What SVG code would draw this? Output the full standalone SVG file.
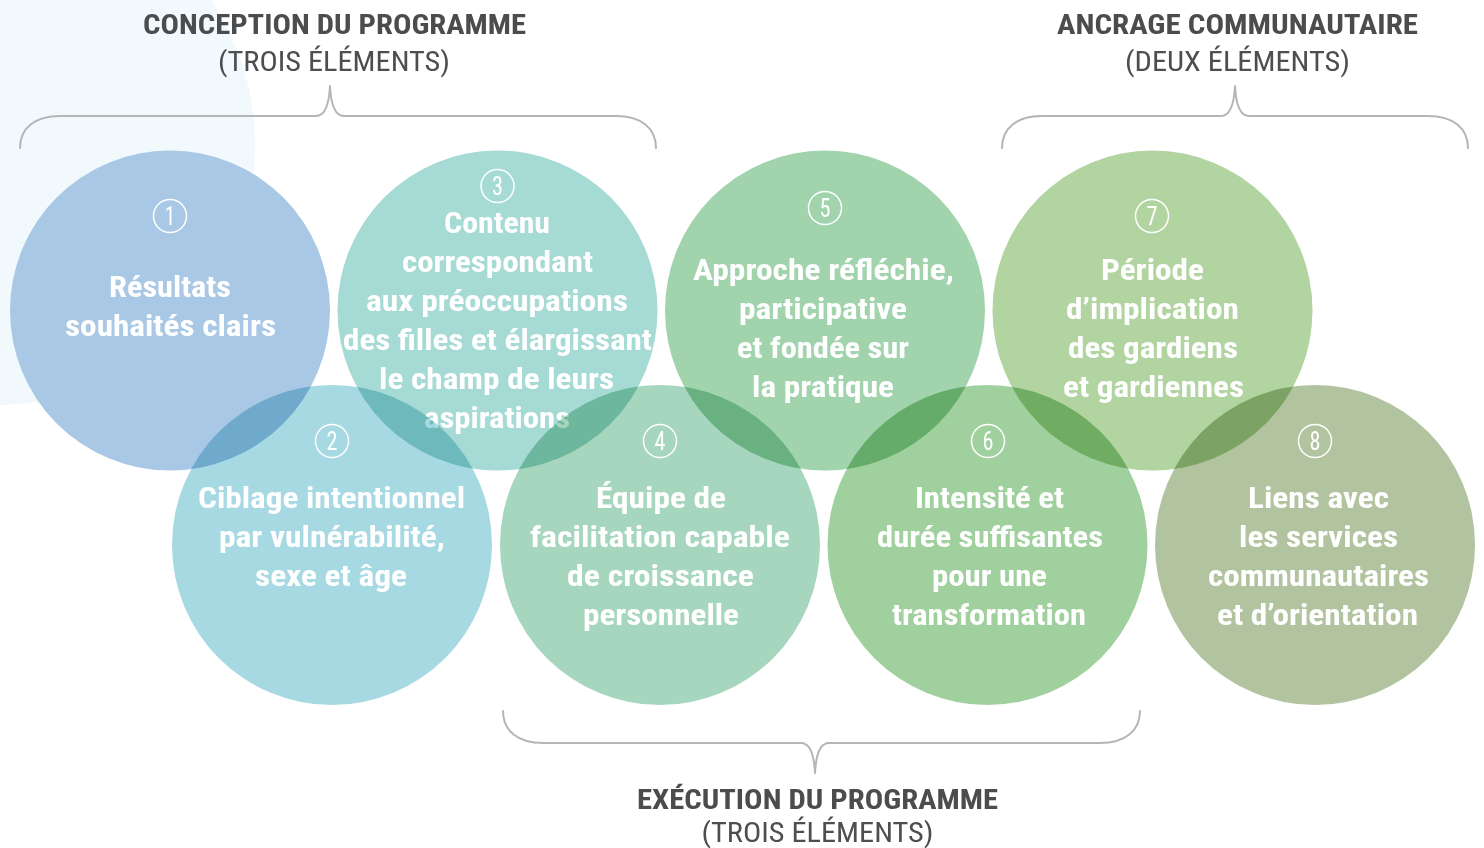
<svg xmlns="http://www.w3.org/2000/svg" width="1484" height="848" viewBox="0 0 1484 848">
<style>
.bg{fill:#ffffff}
.pale{fill:#f1f9fd}
.c{stroke:none}
.blend{mix-blend-mode:multiply}
.t{font-family:"Liberation Sans Narrow","Roboto Condensed","DejaVu Sans Condensed","Liberation Sans",sans-serif;font-weight:bold;font-size:30px;fill:#ffffff;text-anchor:middle}
.n{font-family:"Liberation Sans Narrow","Roboto Condensed","DejaVu Sans Condensed","Liberation Sans",sans-serif;font-weight:normal;font-size:25px;fill:#ffffff;text-anchor:middle}
.nc{fill:none;stroke:#ffffff;stroke-width:1.5}
.h{font-family:"Liberation Sans Narrow","Roboto Condensed","DejaVu Sans Condensed","Liberation Sans",sans-serif;font-weight:bold;font-size:28px;fill:#4a4c4e;text-anchor:middle}
.s{font-family:"Liberation Sans Narrow","Roboto Condensed","DejaVu Sans Condensed","Liberation Sans",sans-serif;font-weight:normal;font-size:27px;fill:#4d4e50;text-anchor:middle}
.br{fill:none;stroke:#b4b5b7;stroke-width:2;stroke-linecap:round;stroke-linejoin:round}
</style>
<rect class="bg" x="0" y="0" width="1484" height="848"/>
<circle class="pale" cx="-5" cy="145" r="260"/>

<g id="labels">
<text class="h" x="334.5" y="34" textLength="383" lengthAdjust="spacingAndGlyphs">CONCEPTION DU PROGRAMME</text>
<text class="s" x="334" y="71" textLength="232" lengthAdjust="spacingAndGlyphs">(TROIS ÉLÉMENTS)</text>
<text class="h" x="1237.5" y="34" textLength="361" lengthAdjust="spacingAndGlyphs">ANCRAGE COMMUNAUTAIRE</text>
<text class="s" x="1237.5" y="71" textLength="225" lengthAdjust="spacingAndGlyphs">(DEUX ÉLÉMENTS)</text>
<text class="h" x="817.5" y="809" textLength="361" lengthAdjust="spacingAndGlyphs">EXÉCUTION DU PROGRAMME</text>
<text class="s" x="817.5" y="842" textLength="232" lengthAdjust="spacingAndGlyphs">(TROIS ÉLÉMENTS)</text>
</g>

<g id="connectors">
<path class="br" d="M20,148 C20,128 35,116 60,116 L316,116 C324,116 329,106 330,86 C331,106 336,116 344,116 L616,116 C641,116 656,128 656,148"/>
<path class="br" d="M1002,148 C1002,128 1017,116 1042,116 L1221,116 C1229,116 1234,106 1235,86 C1236,106 1241,116 1249,116 L1428,116 C1453,116 1468,128 1468,148"/>
<path class="br" d="M503,711 C503,731 518,743 543,743 L801,743 C809,743 814,753 815,773 C816,753 821,743 829,743 L1100,743 C1125,743 1140,731 1140,711"/>
</g>

<g id="node1">
<circle class="c" cx="170" cy="310.5" r="160" fill="#a9c8e5"/>
<circle class="nc" cx="170" cy="216" r="16.5"/>
<text class="n" x="170" y="225" textLength="10" lengthAdjust="spacingAndGlyphs">1</text>
<text class="t" x="170" y="297" textLength="122" lengthAdjust="spacingAndGlyphs">Résultats</text>
<text class="t" x="170.5" y="336" textLength="211" lengthAdjust="spacingAndGlyphs">souhaités clairs</text>
</g>

<g id="node3">
<circle class="c" cx="497.5" cy="310.5" r="160" fill="#a6dad4"/>
<circle class="nc" cx="497.5" cy="186" r="16.5"/>
<text class="n" x="497.5" y="195" textLength="11" lengthAdjust="spacingAndGlyphs">3</text>
<text class="t" x="497" y="233" textLength="106" lengthAdjust="spacingAndGlyphs">Contenu</text>
<text class="t" x="497.5" y="272" textLength="191" lengthAdjust="spacingAndGlyphs">correspondant</text>
<text class="t" x="497" y="311" textLength="262" lengthAdjust="spacingAndGlyphs">aux préoccupations</text>
<text class="t" x="497.5" y="350" textLength="309" lengthAdjust="spacingAndGlyphs">des filles et élargissant</text>
<text class="t" x="496.5" y="389" textLength="235" lengthAdjust="spacingAndGlyphs">le champ de leurs</text>
<text class="t" x="497" y="428" textLength="146" lengthAdjust="spacingAndGlyphs">aspirations</text>
</g>

<g id="node5">
<circle class="c" cx="825" cy="310.5" r="160" fill="#a1d3ad"/>
<circle class="nc" cx="825" cy="208" r="16.5"/>
<text class="n" x="825" y="217" textLength="11" lengthAdjust="spacingAndGlyphs">5</text>
<text class="t" x="823.5" y="280" textLength="261" lengthAdjust="spacingAndGlyphs">Approche réfléchie,</text>
<text class="t" x="823" y="319" textLength="168" lengthAdjust="spacingAndGlyphs">participative</text>
<text class="t" x="823" y="358" textLength="172" lengthAdjust="spacingAndGlyphs">et fondée sur</text>
<text class="t" x="823" y="397" textLength="142" lengthAdjust="spacingAndGlyphs">la pratique</text>
</g>

<g id="node7">
<circle class="c" cx="1152.5" cy="310.5" r="160" fill="#b2d4a0"/>
<circle class="nc" cx="1152" cy="216" r="16.5"/>
<text class="n" x="1152" y="225" textLength="11" lengthAdjust="spacingAndGlyphs">7</text>
<text class="t" x="1152.5" y="280" textLength="103" lengthAdjust="spacingAndGlyphs">Période</text>
<text class="t" x="1152.5" y="319" textLength="173" lengthAdjust="spacingAndGlyphs">d’implication</text>
<text class="t" x="1153" y="358" textLength="170" lengthAdjust="spacingAndGlyphs">des gardiens</text>
<text class="t" x="1153.5" y="397" textLength="181" lengthAdjust="spacingAndGlyphs">et gardiennes</text>
</g>

<g id="node2">
<circle class="c blend" cx="332" cy="545" r="160" fill="#a7d9e3"/>
<circle class="nc" cx="332" cy="441" r="16.5"/>
<text class="n" x="332" y="450" textLength="11" lengthAdjust="spacingAndGlyphs">2</text>
<text class="t" x="331.5" y="508" textLength="267" lengthAdjust="spacingAndGlyphs">Ciblage intentionnel</text>
<text class="t" x="332" y="547" textLength="226" lengthAdjust="spacingAndGlyphs">par vulnérabilité,</text>
<text class="t" x="331" y="586" textLength="152" lengthAdjust="spacingAndGlyphs">sexe et âge</text>
</g>

<g id="node4">
<circle class="c blend" cx="660" cy="545" r="160" fill="#a6d6bd"/>
<circle class="nc" cx="660" cy="441" r="16.5"/>
<text class="n" x="660" y="450" textLength="11" lengthAdjust="spacingAndGlyphs">4</text>
<text class="t" x="661" y="508" textLength="130" lengthAdjust="spacingAndGlyphs">Équipe de</text>
<text class="t" x="660" y="547" textLength="260" lengthAdjust="spacingAndGlyphs">facilitation capable</text>
<text class="t" x="660.5" y="586" textLength="187" lengthAdjust="spacingAndGlyphs">de croissance</text>
<text class="t" x="661" y="625" textLength="156" lengthAdjust="spacingAndGlyphs">personnelle</text>
</g>

<g id="node6">
<circle class="c blend" cx="987.5" cy="545" r="160" fill="#a0d09d"/>
<circle class="nc" cx="988" cy="441" r="16.5"/>
<text class="n" x="988" y="450" textLength="11" lengthAdjust="spacingAndGlyphs">6</text>
<text class="t" x="989.5" y="508" textLength="149" lengthAdjust="spacingAndGlyphs">Intensité et</text>
<text class="t" x="990" y="547" textLength="226" lengthAdjust="spacingAndGlyphs">durée suffisantes</text>
<text class="t" x="989.5" y="586" textLength="115" lengthAdjust="spacingAndGlyphs">pour une</text>
<text class="t" x="989" y="625" textLength="194" lengthAdjust="spacingAndGlyphs">transformation</text>
</g>

<g id="node8">
<circle class="c blend" cx="1315" cy="545" r="160" fill="#b2c49f"/>
<circle class="nc" cx="1315" cy="441" r="16.5"/>
<text class="n" x="1315" y="450" textLength="11" lengthAdjust="spacingAndGlyphs">8</text>
<text class="t" x="1318.5" y="508" textLength="141" lengthAdjust="spacingAndGlyphs">Liens avec</text>
<text class="t" x="1318.5" y="547" textLength="159" lengthAdjust="spacingAndGlyphs">les services</text>
<text class="t" x="1318.5" y="586" textLength="221" lengthAdjust="spacingAndGlyphs">communautaires</text>
<text class="t" x="1317.5" y="625" textLength="201" lengthAdjust="spacingAndGlyphs">et d’orientation</text>
</g>
</svg>
